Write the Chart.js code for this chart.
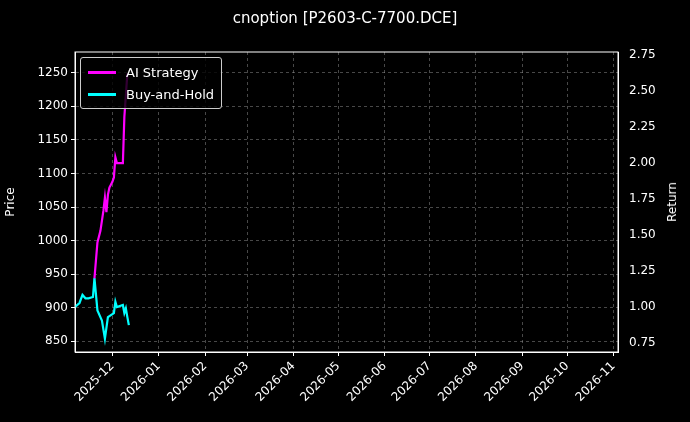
<!DOCTYPE html>
<html>
<head>
<meta charset="utf-8">
<script src="https://cdn.jsdelivr.net/npm/chart.js@4"></script>
<style>
  body { margin: 0; background: #000; font-family: "DejaVu Sans", sans-serif; }
  #wrap { position: relative; width: 690px; height: 422px; }
  #title { position: absolute; top: 9px; left: 0; width: 690px; text-align: center; color: #fff; font-size: 15px; }
  #legend { position: absolute; left: 80px; top: 57px; border: 1px solid #ccc; border-radius: 3px; padding: 3px 7px; color: #fff; font-size: 13px; background: rgba(0,0,0,0.8); }
  #legend div { display: flex; align-items: center; height: 22px; }
  #legend span.sw { display: inline-block; width: 28px; height: 3px; margin-right: 10px; }
  #rtitle { position: absolute; left: 672px; top: 202px; color: #fff; font-size: 12px; transform: translate(-50%, -50%) rotate(-90deg); }
</style>
</head>
<body>
<div id="wrap">
  <canvas id="c" width="690" height="422"></canvas>
  <div id="title">cnoption [P2603-C-7700.DCE]</div>
  <div id="legend">
    <div><span class="sw" style="background:#ff00ff"></span>AI Strategy</div>
    <div><span class="sw" style="background:#00ffff"></span>Buy-and-Hold</div>
  </div>
  <div id="rtitle">Return</div>
</div>
<script>
// Buy-and-Hold = underlying price (left axis)
const priceDates = ['2025-11-06','2025-11-09','2025-11-11','2025-11-13','2025-11-15','2025-11-18','2025-11-19',
  '2025-11-21','2025-11-24','2025-11-26','2025-11-28','2025-12-02','2025-12-03','2025-12-04','2025-12-08',
  '2025-12-09','2025-12-10','2025-12-11','2025-12-12'];
const priceValues = [901, 907, 919, 914, 914, 916, 944, 896, 881, 854, 886, 892, 909, 901, 904, 892, 899, 886, 874];

// AI Strategy = cumulative return (right axis)
const returnDates = ['2025-11-19','2025-11-21','2025-11-23','2025-11-25','2025-11-26','2025-11-27','2025-11-28',
  '2025-11-29','2025-12-01','2025-12-02','2025-12-03','2025-12-04','2025-12-06','2025-12-08','2025-12-09','2025-12-11'];
const returnValues = [1.20, 1.45, 1.53, 1.67, 1.76, 1.66, 1.78, 1.83, 1.87, 1.90, 2.04, 2.00, 2.00, 2.00, 2.32, 2.62];

const monthTicks = ['2025-12','2026-01','2026-02','2026-03','2026-04','2026-05','2026-06',
  '2026-07','2026-08','2026-09','2026-10','2026-11'];
const priceTicks = [850, 900, 950, 1000, 1050, 1100, 1150, 1200, 1250];
const returnTicks = [0.75, 1, 1.25, 1.5, 1.75, 2, 2.25, 2.5, 2.75];

const DAY = 86400000;
const toDay = s => Date.parse(s + (s.length === 7 ? '-01' : '')) / DAY;

const gridColor = 'rgba(160,160,160,0.45)';
const tickFont = { family: 'DejaVu Sans', size: 12 };

new Chart(document.getElementById('c'), {
  type: 'line',
  data: {
    datasets: [
      {
        label: 'AI Strategy',
        data: returnDates.map((d, i) => ({ x: toDay(d), y: returnValues[i] })),
        borderColor: '#ff00ff', borderWidth: 2.2, pointRadius: 0, tension: 0, yAxisID: 'y1'
      },
      {
        label: 'Buy-and-Hold',
        data: priceDates.map((d, i) => ({ x: toDay(d), y: priceValues[i] })),
        borderColor: '#00ffff', borderWidth: 2.2, pointRadius: 0, tension: 0, yAxisID: 'y'
      }
    ]
  },
  options: {
    responsive: false,
    animation: false,
    layout: { padding: { top: 52 } },
    plugins: { legend: { display: false }, title: { display: false }, tooltip: { enabled: false } },
    scales: {
      x: {
        type: 'linear',
        min: toDay('2025-11-06'), max: toDay('2026-11-04'),
        afterBuildTicks: s => { s.ticks = monthTicks.map(m => ({ value: toDay(m) })); },
        afterFit: s => { s.height = 70; },
        grid: { color: gridColor, tickColor: '#fff', tickLength: 4 },
        border: { color: '#fff', dash: [3, 3] },
        ticks: {
          color: '#fff', font: tickFont, maxRotation: 45, minRotation: 45,
          callback: v => { const d = new Date(v * DAY); return d.getUTCFullYear() + '-' + String(d.getUTCMonth() + 1).padStart(2, '0'); }
        }
      },
      y: {
        position: 'left', min: 834, max: 1281,
        afterBuildTicks: s => { s.ticks = priceTicks.map(v => ({ value: v })); },
        afterFit: s => { s.width = 75; },
        title: { display: true, text: 'Price', color: '#fff', font: tickFont },
        grid: { color: gridColor, tickColor: '#fff', tickLength: 4 },
        border: { color: '#fff', dash: [3, 3] },
        ticks: { color: '#fff', font: tickFont, callback: v => String(v) }
      },
      y1: {
        position: 'right', min: 0.69, max: 2.77,
        afterBuildTicks: s => { s.ticks = returnTicks.map(v => ({ value: v })); },
        afterFit: s => { s.width = 72; },
        grid: { display: false },
        border: { color: '#fff' },
        ticks: { color: '#fff', font: tickFont, callback: v => v.toFixed(2) }
      }
    }
  },
  plugins: [{
    id: 'frame',
    beforeDraw: c => { const g = c.ctx; g.fillStyle = '#000'; g.fillRect(0, 0, c.width, c.height); },
    afterDatasetsDraw: c => {
      const a = c.chartArea, g = c.ctx;
      g.save(); g.strokeStyle = '#fff'; g.lineWidth = 1;
      g.strokeRect(a.left, a.top, a.right - a.left, a.bottom - a.top); g.restore();
    }
  }]
});
</script>
</body>
</html>
